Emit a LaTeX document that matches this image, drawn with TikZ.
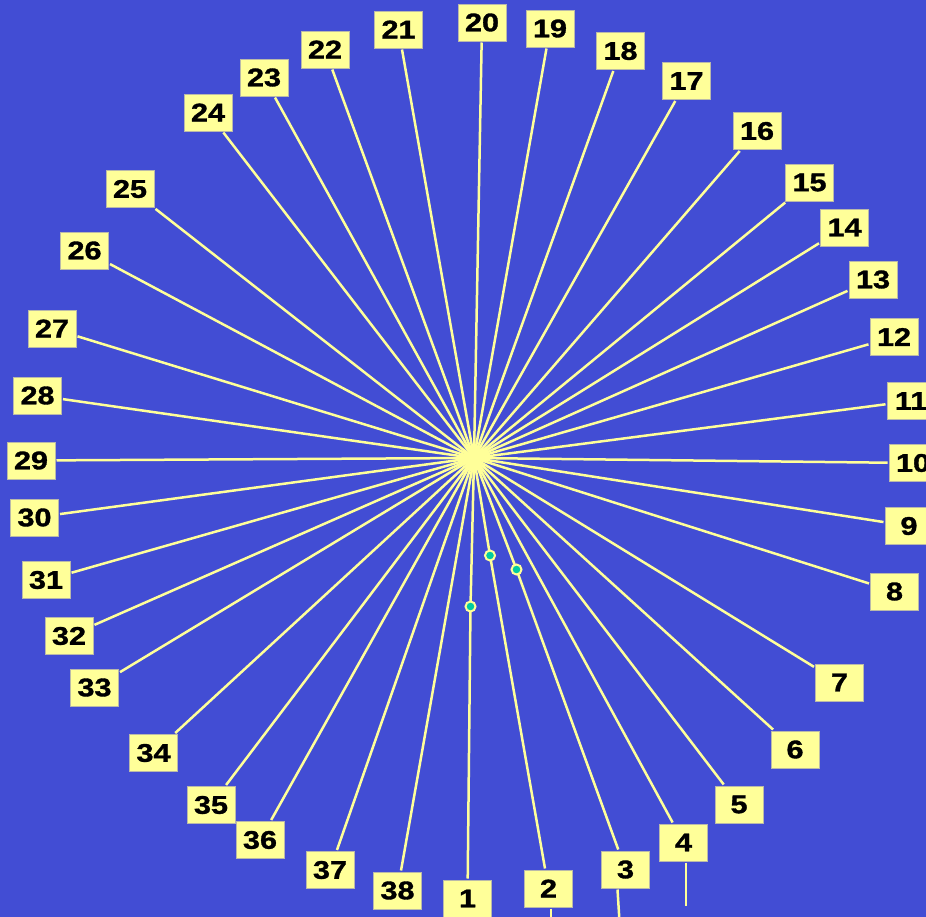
\documentclass[tikz,border=0pt]{standalone}
\usepackage{fontspec}
\newfontfamily\numfont{Liberation Sans}[FakeStretch=1.2, FakeBold=1.3]
\definecolor{bgblue}{RGB}{66,77,212}
\definecolor{paleyel}{RGB}{255,255,153}
\definecolor{dotgreen}{RGB}{0,204,160}
\definecolor{boxedge}{RGB}{185,185,170}

\begin{document}
\begin{tikzpicture}[
  x=1pt, y=-1pt,
  ray/.style = {draw=paleyel, line width=2.5pt},
  numbox/.style = {fill=paleyel, draw=boxedge, line width=0.6pt,
    minimum width=48pt, minimum height=37pt, inner sep=0pt, outer sep=1.5pt,
    font={\numfont\bfseries\fontsize{25.5}{28}\selectfont}},
  knot/.style = {circle, fill=dotgreen, draw=paleyel, line width=2pt,
    minimum size=10pt, inner sep=0pt}]
  % pozadie
  \path[use as bounding box, fill=bgblue] (0,0) rectangle (926,917);
  \clip (0,0) rectangle (926,917);

  % stred a zlomy
  \coordinate (c) at (474,458);
  \coordinate (b1) at (470.5,606.5);
  \coordinate (b2) at (490,555.5);
  \coordinate (b3) at (516.5,569.5);

  % cisla
  \foreach \n/\x/\y in {1/467.5/898.5, 2/548.5/888.5, 3/625.5/869.5, 4/683.5/842.5,
      5/739/804.5, 6/795/749.5, 7/839.5/682.5, 8/894.5/591.5, 9/909/526,
      10/913/463, 11/911/401, 12/894/337, 13/873/279.5, 14/844.5/227.5,
      15/809.5/182.5, 16/757/131, 17/686.5/81, 18/620.5/51, 19/550/28.5,
      20/482/22.5, 21/398.5/29.5, 22/325/49.5, 23/264/77.5, 24/208/112.5,
      25/130/189, 26/84.5/250.5, 27/52/328.5, 28/37.5/395.5, 29/31/460.5,
      30/34.5/517.5, 31/46/580, 32/69/636, 33/94.5/687.5, 34/153.5/753,
      35/211/805, 36/260/840, 37/330/870, 38/397.5/890.5}
    \node[numbox] (n\n) at (\x,\y) {\n};

  % luce
  \foreach \n in {4,...,38}
    \draw[ray] (c) -- (n\n);
  \draw[ray] (c) -- (b1) -- (n1);
  \draw[ray] (c) -- (b2) -- (n2);
  \draw[ray] (c) -- (b3) -- (n3);

  % pokracovanie pod stitkami
  \draw[ray] ([xshift=2.5pt]n2.south) -- ++(0,12);
  \draw[ray] ([xshift=-8pt]n3.south) -- ++(2,32);
  \draw[ray] ([xshift=2.5pt]n4.south) -- ++(0,43);

  % body
  \node[knot] (k1) at (b1) {};
  \node[knot] (k2) at (b2) {};
  \node[knot] (k3) at (b3) {};

\end{tikzpicture}
\end{document}
